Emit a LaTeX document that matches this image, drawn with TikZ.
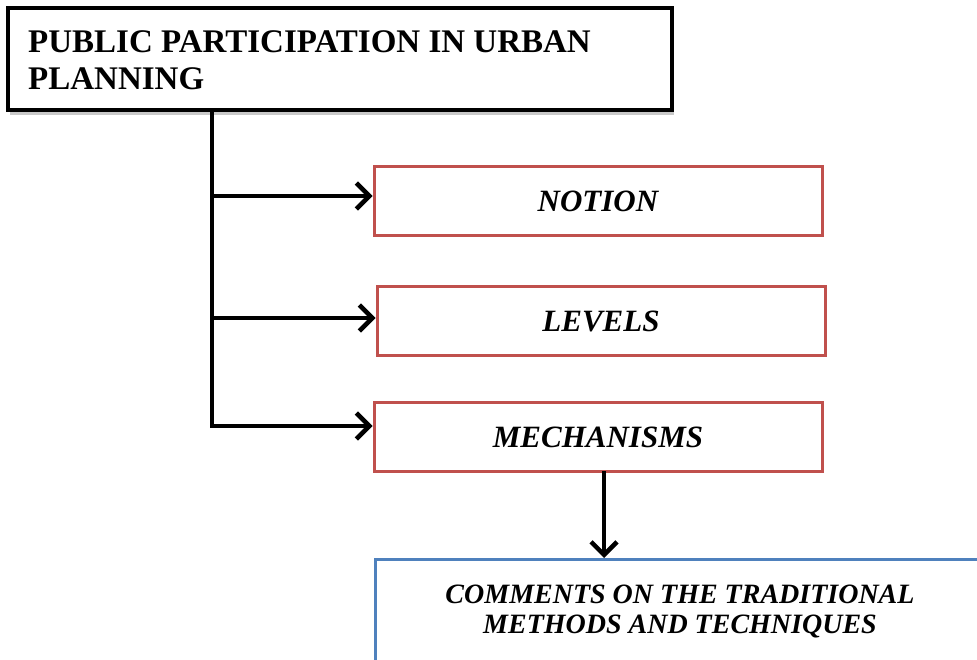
\documentclass[tikz,border=0pt]{standalone}
\usepackage{fontspec}
\setmainfont{Liberation Serif}
\usetikzlibrary{arrows.meta,shadows}
\definecolor{boxred}{HTML}{C0504D}
\definecolor{boxblue}{HTML}{4F81BD}
\tikzset{
  titlebox/.style={draw=black, line width=4.5pt, fill=white, minimum width=664pt, minimum height=102pt,
    inner sep=0pt, drop shadow={shadow xshift=2pt, shadow yshift=-5pt, opacity=0.35, fill=black!60}},
  topicbox/.style={draw=boxred, line width=3pt, fill=white, minimum width=448pt, minimum height=69pt,
    inner sep=0pt, font=\fontsize{31}{36}\selectfont\bfseries\itshape},
  notebox/.style={draw=boxblue, line width=3pt, fill=white, minimum width=630pt, minimum height=120pt,
    inner sep=0pt, anchor=north west},
  link/.style={draw=black, line width=4.5pt},
  arr/.style={link, -{Straight Barb[length=13pt,width=26pt]}},
}
\begin{document}
\begin{tikzpicture}[x=1pt,y=-1pt]
\useasboundingbox (0,0) rectangle (977,660);
\clip (0,0) rectangle (977,660);
\fill[white] (0,0) rectangle (977,660);

% heading box
\node[titlebox] (title) at (340,59) {};
\node[anchor=base west, inner sep=0pt, align=left, font=\fontsize{33}{37}\selectfont\bfseries]
  (titletext) at (28,90) {PUBLIC PARTICIPATION IN URBAN\\PLANNING};

% topic boxes
\node[topicbox] (notion) at (598,201.5) {NOTION};
\node[topicbox] (levels) at (601,321) {LEVELS};
\node[topicbox] (mech)   at (598,437) {MECHANISMS};

% comment box, running off the page edges
\node[notebox] (comments) at (374,558) {};
\node[anchor=base, align=center, inner sep=0pt, font=\fontsize{28}{30}\selectfont\bfseries\itshape]
  (commentstext) at (680,633) {COMMENTS ON THE TRADITIONAL\\METHODS AND TECHNIQUES};

% trunk and branches
\coordinate (t0) at (212,114);
\coordinate (b1) at (212,196);
\coordinate (b2) at (212,318);
\coordinate (b3) at (212,426);
\draw[link, line cap=rect] (t0) -- (b3);
\draw[arr] (b1) -- (notion.west |- b1);
\draw[arr] (b2) -- (levels.west |- b2);
\draw[arr] (b3) -- (mech.west |- b3);

% down arrow to comments
\coordinate (d0) at (604,471);
\draw[arr] (d0) -- (d0 |- comments.north);
\end{tikzpicture}
\end{document}
